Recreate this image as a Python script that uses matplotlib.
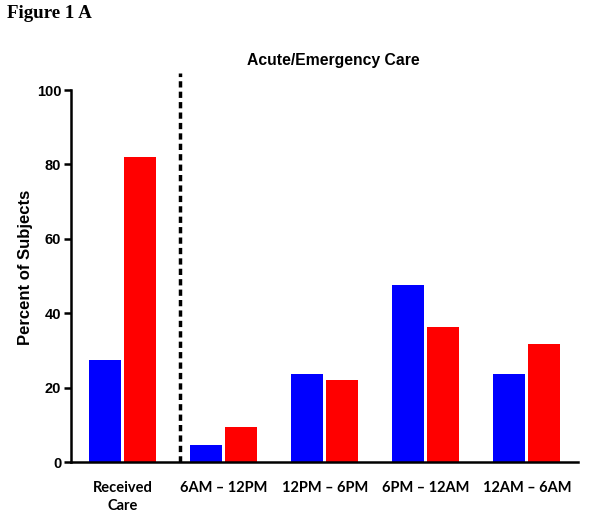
import matplotlib
matplotlib.use("Agg")
import matplotlib.pyplot as plt
import numpy as np

categories = ["Received\nCare", "6AM \u2013 12PM", "12PM \u2013 6PM", "6PM \u2013 12AM", "12AM \u2013 6AM"]
blue_values = [27.4, 4.7, 23.7, 47.5, 23.7]
red_values = [82.1, 9.5, 22.0, 36.2, 31.7]
y_ticks = [0, 20, 40, 60, 80, 100]

fig = plt.figure(figsize=(6.02, 5.18), dpi=100)
ax = fig.add_axes([71/602, 56/518, 507/602, 372/518])

x = np.arange(len(categories))
w = 0.315
ax.bar(x - 0.175, blue_values, width=w, color="#0000FF", edgecolor="none")
ax.bar(x + 0.17, red_values, width=w, color="#FF0000", edgecolor="none")

ax.set_xlim(-0.515, 4.505)
ax.set_ylim(0, 100)
ax.set_yticks(y_ticks)
ax.set_yticklabels([str(t) for t in y_ticks], fontfamily="Liberation Sans",
                   fontweight="bold", fontsize=10.5)
ax.set_xticks(x)
ax.set_xticklabels(categories, fontfamily="Lato", fontweight="bold", fontsize=10.5,
                   linespacing=1.35)
ax.tick_params(axis="x", length=0, pad=14)
ax.tick_params(axis="y", length=5, width=1.8, pad=2)

for s in ["top", "right"]:
    ax.spines[s].set_visible(False)
ax.spines["left"].set_linewidth(1.8)
ax.spines["bottom"].set_linewidth(1.8)

ax.set_ylabel("Percent of Subjects", fontfamily="Liberation Sans", fontweight="bold",
              fontsize=12)
ax.yaxis.set_label_coords(-38/507, 0.523)

ax.plot([0.565, 0.565], [0, 104.5], color="black", lw=2.5, linestyle=(0, (1.8, 1.2)),
        clip_on=False)

fig.text(333/602, 1 - 60/518, "Acute/Emergency Care", ha="center", va="center",
         fontfamily="Liberation Sans", fontweight="bold", fontsize=11.3)
fig.text(7/602, 1 - 14/518, "Figure 1 A", ha="left", va="center",
         fontfamily="Liberation Serif", fontweight="bold", fontsize=13.7)

fig.savefig("out.png", dpi=100)
